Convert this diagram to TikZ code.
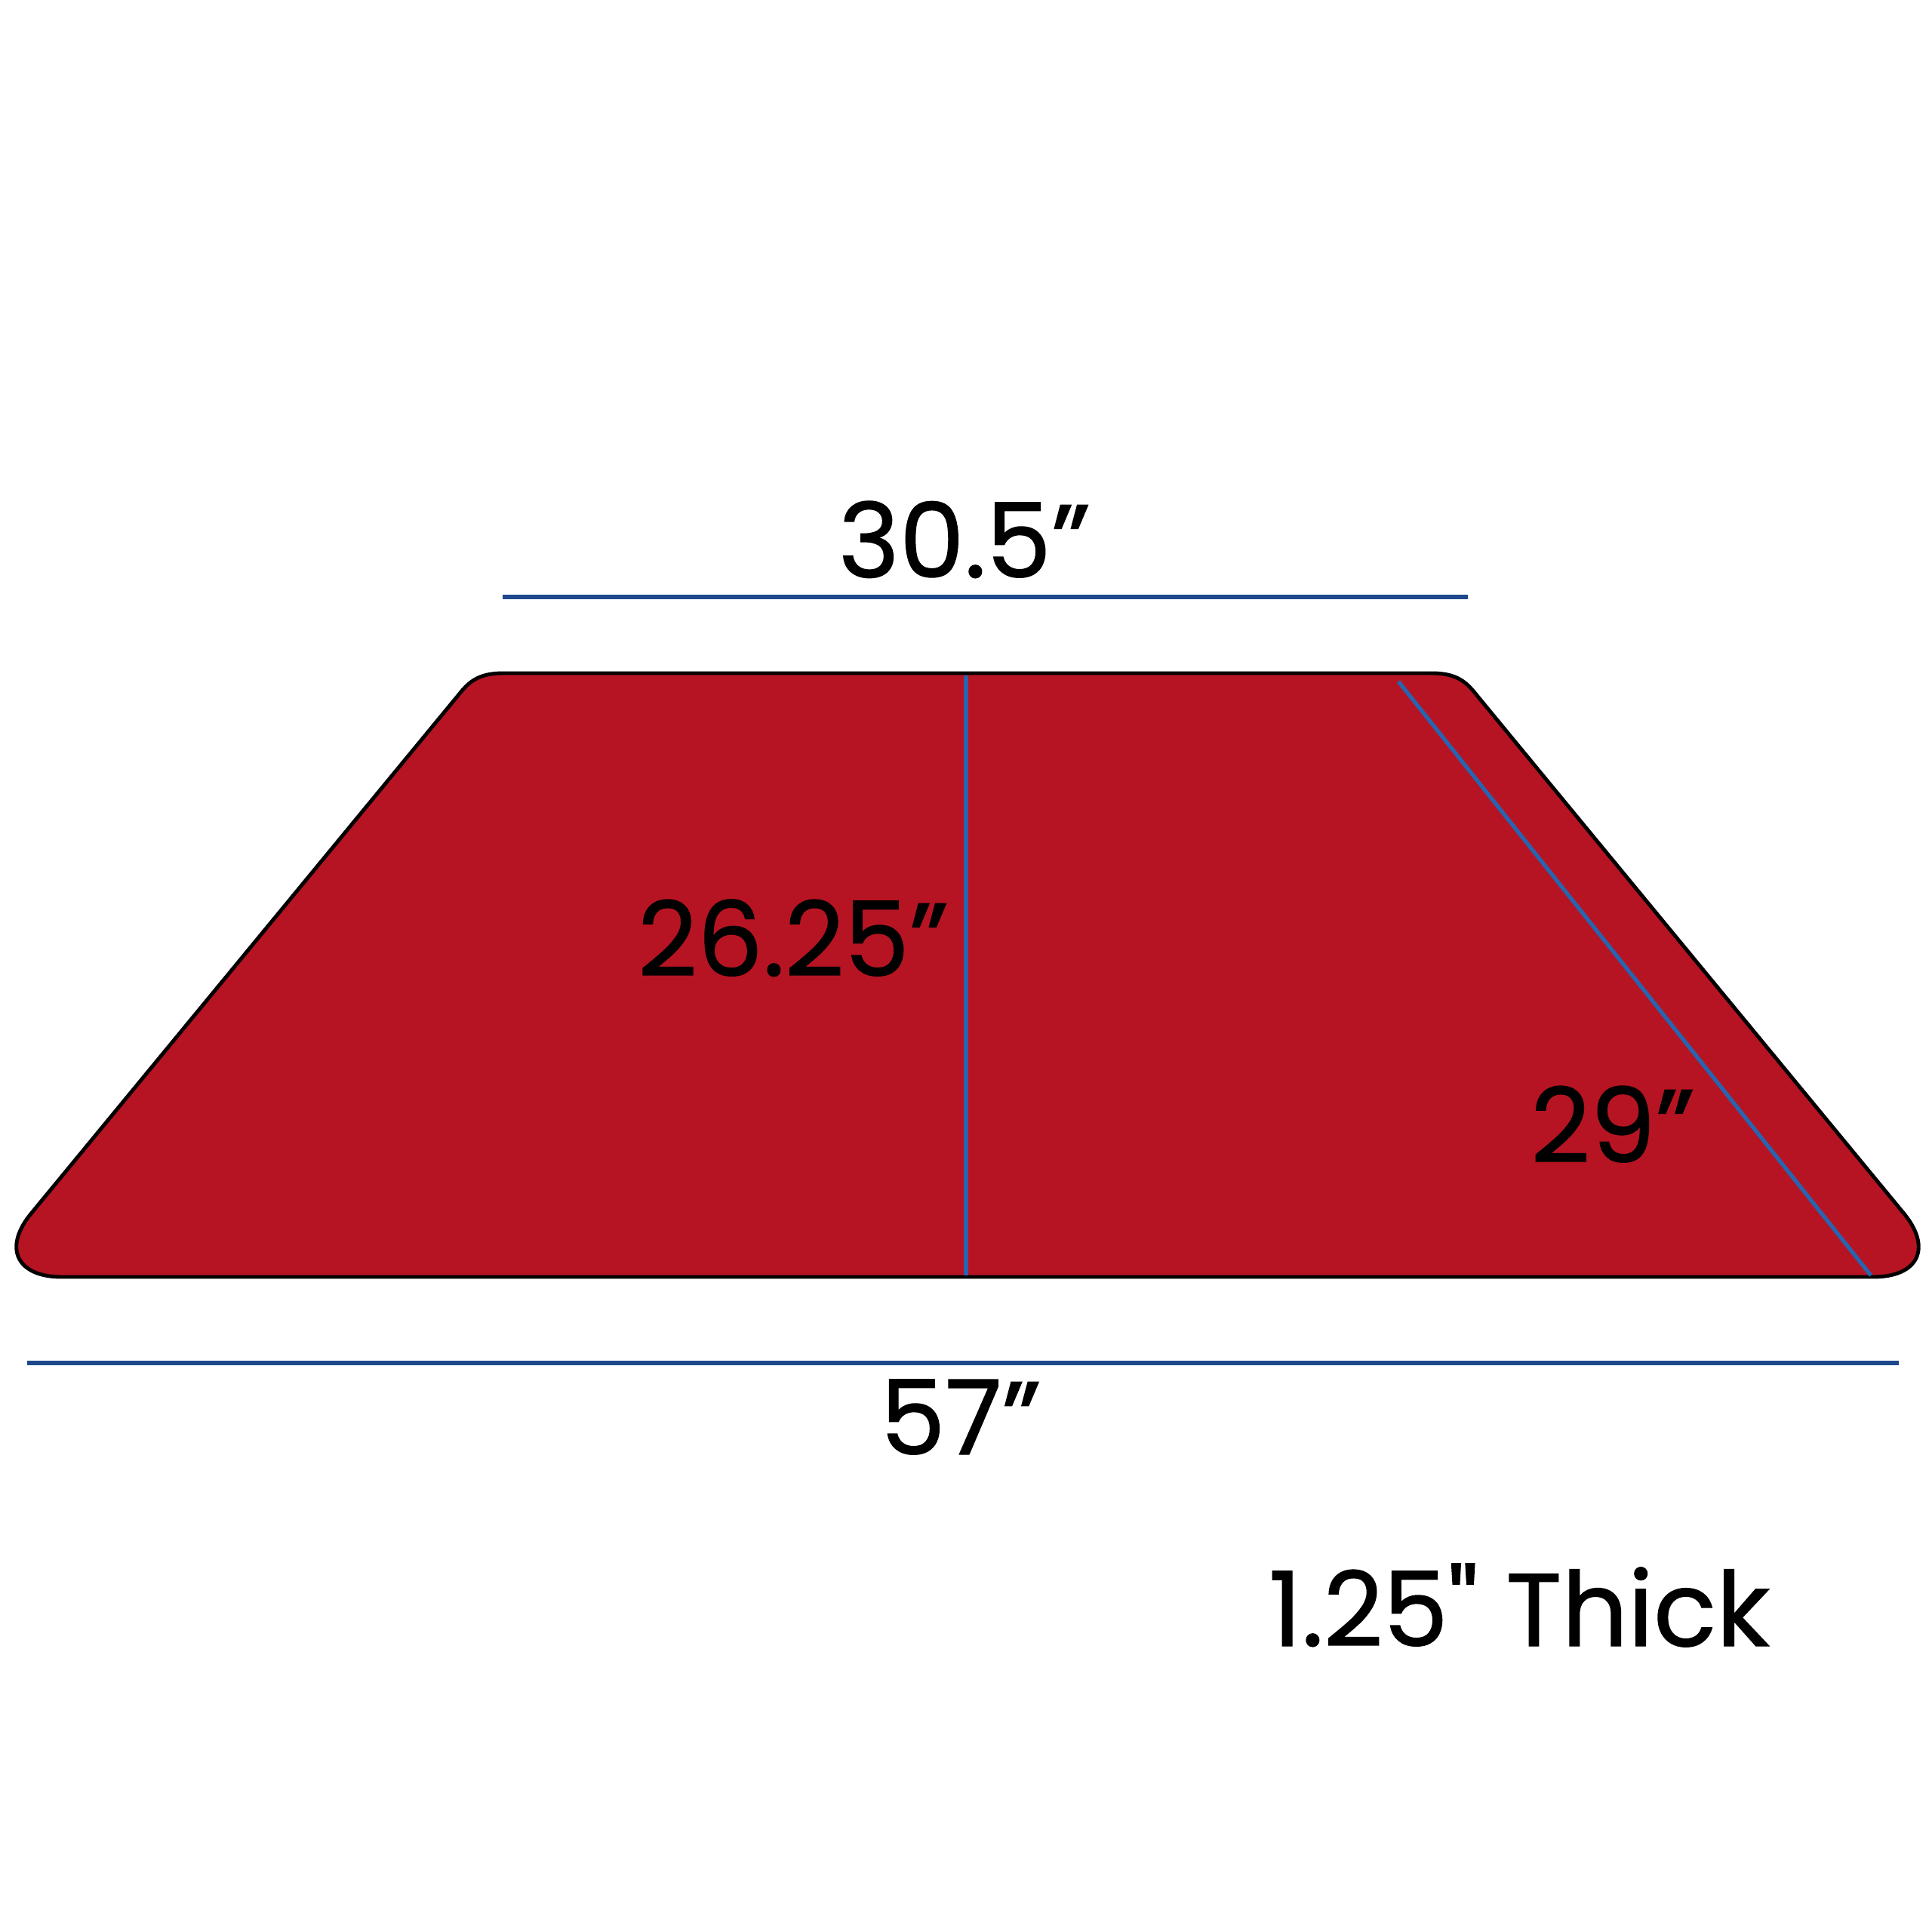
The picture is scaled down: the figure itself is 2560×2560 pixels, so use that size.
\documentclass[tikz,border=0pt]{standalone}
\font\labelfont="Poppins:embolden=1.0" at 39pt
\definecolor{tablered}{RGB}{182,20,34}
\definecolor{dimblue}{RGB}{30,72,140}
\definecolor{innerblue}{RGB}{40,100,176}
\begin{document}
\begin{tikzpicture}[x=0.01cm,y=-0.01cm,
  tabletop/.style={fill=tablered,draw=black,line width=1.4pt},
  dimline/.style={draw=dimblue,line width=1.7pt},
  innerline/.style={draw=innerblue,line width=1.5pt},
  lbl/.style={anchor=base,inner sep=0pt,font=\labelfont}]
\useasboundingbox[fill=white] (0,0) rectangle (2560,2560);
% table top
\draw[tabletop]
  (1282,1692) -- (82,1692)
  .. controls (21.5,1692) and (3.5,1653) .. (42,1607)
  -- (609,919)
  .. controls (621,904) and (634,892) .. (666,892)
  -- (1898,892)
  .. controls (1930,892) and (1943,904) .. (1955,919)
  -- (2522,1607)
  .. controls (2560.5,1653) and (2542.5,1692) .. (2482,1692)
  -- cycle;
% inner measuring lines
\coordinate (vtop) at (1280,895);
\coordinate (vbot) at (1280,1690);
\coordinate (dtop) at (1853,903);
\coordinate (dbot) at (2479,1690);
\draw[innerline] (vtop) -- (vbot);
\draw[innerline] (dtop) -- (dbot);
% dimension lines
\coordinate (ta) at (666,791);
\coordinate (tb) at (1945,791);
\coordinate (ba) at (36,1806);
\coordinate (bb) at (2516,1806);
\draw[dimline] (ta) -- (tb);
\draw[dimline] (ba) -- (bb);
% labels
\node[lbl] (ltop) at (1278,765) {30.5”};
\node[lbl] (lh) at (1051,1293) {26.25”};
\node[lbl] (ls) at (2137,1540) {29”};
\node[lbl] (lb) at (1273,1927) {57”};
\node[lbl] (lt) at (2013,2181) {1.25" Thick};
\end{tikzpicture}
\end{document}
